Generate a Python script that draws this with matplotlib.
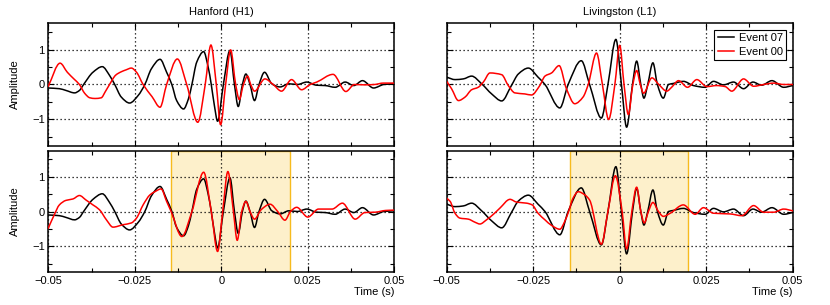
import numpy as np
import matplotlib
matplotlib.use("Agg")
import matplotlib.pyplot as plt
from matplotlib.path import Path
from matplotlib.patches import PathPatch
from matplotlib.lines import Line2D
from matplotlib.ticker import MultipleLocator, FixedLocator, FixedFormatter

plt.rcParams['font.family'] = ['Liberation Sans', 'DejaVu Sans']

# ---------------- data (time in ms, amplitude) ----------------
# Hanford (H1), Event 07 (same in both rows)
h1_t07 = [-50, -46.8, -44.9, -42.4, -41.0, -39.8, -37.1, -34.4, -32.3, -30.8, -28.9, -26.5,
          -24.0, -22.1, -20.2, -17.7, -15.8, -14.3, -12.9, -10.9, -9.5, -8.5, -7.1, -5.1,
          -3.8, -2.9, -2.0, -1.07, 0.6, 2.5, 3.8, 4.9, 6.1, 7.1, 8.3, 9.6, 10.9, 12.5, 14.6,
          17.0, 19.5, 22.0, 24.7, 27.5, 30.0, 32.9, 35.8, 38.3, 40.8, 44.0, 47.0, 50]
h1_a07 = [-0.10, -0.12, -0.17, -0.24, -0.17, 0.0, 0.35, 0.51, 0.26, 0.0, -0.36, -0.53,
          -0.31, 0.0, 0.45, 0.72, 0.35, 0.0, -0.46, -0.70, -0.41, 0.0, 0.64, 0.94,
          0.50, 0.0, -0.60, -1.05, 0.0, 0.97, 0.0, -0.63, 0.0, 0.30, 0.0, -0.46, 0.0, 0.35, 0.02,
          -0.07, 0.02, 0.0, 0.07, -0.02, -0.03, -0.08, 0.07, -0.03, 0.11, -0.10, 0.0, 0.02]

# Hanford (H1), Event 00 (top row, raw)
h1_t00_raw = [-50, -46.6, -44.5, -42.5, -41.0, -39.5, -38.0, -36.5, -34.7, -33.5, -32.3, -30.5,
              -29.0, -27.5, -26.0, -24.5, -22.6, -20.0, -17.7, -15.8, -12.7, -10.0, -6.8, -4.65,
              -3.0, -1.45, -0.2, 1.25, 2.7, 4.15, 5.2, 6.4, 7.6, 8.5, 9.6, 12.6, 15.0, 17.4,
              20.3, 23.2, 25.7, 27.6, 32.3, 36.0, 38.5, 41.4, 44.3, 46.8, 50]
h1_a00_raw = [-0.05, 0.61, 0.35, 0.15, 0.0, -0.25, -0.38, -0.40, -0.38, -0.2, 0.0, 0.27,
              0.36, 0.42, 0.47, 0.35, 0.0, -0.35, -0.65, 0.0, 0.73, 0.0, -1.08, 0.0,
              1.13, 0.0, -1.15, 0.0, 0.99, 0.0, -0.43, 0.0, 0.24, 0.0, -0.19, 0.16, 0.0, -0.19,
              0.14, -0.15, 0.0, 0.07, 0.29, -0.20, 0.0, -0.01, 0.0, 0.04, 0.04]

# Hanford (H1), Event 00 (bottom row, aligned)
h1_t00_al = [-50, -48.3, -46.8, -44.9, -42.9, -41.0, -39.1, -37.1, -35.2, -33.2, -31.3, -28.4,
             -26.0, -24.5, -22.6, -20.6, -19.2, -17.4, -15.8, -14.5, -11.4, -8.5, -5.1, -2.9,
             -1.07, 0.4, 1.9, 3.5, 4.6, 5.9, 7.1, 8.3, 9.6, 11.5, 14.1, 16.3, 18.4, 20.0, 21.8,
             25.0, 28.1, 32.0, 35.0, 38.7, 41.5, 44.5, 47.5, 50]
h1_a00_al = [-0.48, -0.10, 0.19, 0.32, 0.36, 0.46, 0.33, 0.19, 0.05, -0.24, -0.45, -0.38,
             -0.33, -0.19, 0.19, 0.48, 0.57, 0.65, 0.29, 0.0, -0.72, 0.0, 1.13, 0.0,
             -1.15, 0.0, 1.15, 0.0, -0.83, 0.0, 0.29, 0.0, -0.22, 0.05, 0.21, 0.0, -0.25, 0.0, 0.12,
             -0.16, 0.07, 0.07, 0.24, -0.22, -0.03, -0.02, 0.03, 0.04]

# Livingston (L1), Event 07 (same in both rows)
l1_t07 = [-50, -47.6, -45.2, -42.8, -39.9, -37.0, -34.1, -31.3, -29.3, -26.4, -23.6, -21.6,
          -17.3, -14.9, -11.1, -8.7, -5.3, -3.4, -1.1, 0.5, 2.0, 3.7, 4.9, 6.1, 7.0, 8.1,
          9.6, 10.9, 12.6, 14.1, 15.5, 18.4, 21.3, 24.7, 27.1, 30.0, 32.9, 35.8, 38.5, 41.0,
          44.0, 47.4, 50]
l1_a07 = [0.21, 0.14, 0.16, 0.24, 0.02, -0.27, -0.47, -0.03, 0.30, 0.47, 0.21, 0.0,
          -0.67, 0.0, 0.68, 0.0, -0.96, 0.0, 1.29, 0.0, -1.22, 0.0, 0.67, 0.0, -0.39, 0.0,
          0.62, 0.0, -0.39, 0.0, 0.03, 0.09, -0.03, -0.08, 0.09, -0.01, 0.07, -0.12, 0.07, -0.02,
          0.11, -0.08, -0.03]

# Livingston (L1), Event 00 (top row, raw)
l1_t00_raw = [-50, -48.6, -46.6, -44.7, -42.8, -40.9, -39.4, -37.5, -34.1, -32.2, -30.3, -27.4,
              -25.5, -23.1, -21.6, -19.7, -17.5, -15.4, -13.0, -10.6, -9.1, -6.7, -5.0, -3.2,
              -1.4, 0.0, 1.25, 2.5, 3.8, 4.9, 5.9, 6.9, 9.3, 11.3, 13.6, 15.0, 17.0, 19.6,
              22.3, 25.2, 28.0, 30.5, 32.4, 35.8, 38.7, 41.6, 44.5, 47.4, 50]
l1_a00_raw = [0.09, -0.12, -0.46, -0.36, -0.15, -0.08, 0.07, 0.33, 0.28, -0.03, -0.24, -0.27,
              -0.30, -0.03, 0.24, 0.33, 0.54, -0.12, -0.55, -0.36, 0.0, 0.90, 0.0, -1.00,
              0.0, 1.12, 0.0, -0.86, 0.0, 0.40, 0.02, -0.25, 0.19, 0.0, -0.19, -0.08, 0.11, -0.08,
              0.14, -0.06, -0.03, -0.06, -0.19, 0.16, -0.05, 0.0, 0.04, 0.0, 0.0]

# Livingston (L1), Event 00 (bottom row, aligned)
l1_t00_al = [-50, -49.0, -47.6, -46.2, -43.75, -41.8, -40.4, -38.5, -36.5, -34.6, -31.7, -29.8,
             -26.9, -25.3, -23.6, -21.6, -19.7, -17.3, -15.9, -14.6, -13.5, -12.0, -10.1, -8.7,
             -5.3, -3.4, -1.25, 0.7, 2.0, 3.5, 4.9, 6.1, 7.1, 8.3, 9.6, 11.2, 12.6, 14.6, 18.4,
             21.8, 24.2, 27.1, 31.9, 35.3, 38.7, 41.6, 44.5, 47.4, 50]
l1_a00_al = [0.38, 0.29, -0.05, -0.19, -0.22, -0.31, -0.36, -0.24, -0.08, 0.10, 0.35, 0.27,
             0.24, 0.19, -0.05, -0.24, -0.40, -0.51, -0.29, 0.05, 0.38, 0.57, 0.48, 0.33,
             -0.94, 0.0, 1.03, 0.0, -1.08, 0.0, 0.70, 0.0, -0.33, 0.0, 0.26, 0.0, -0.14, -0.05, 0.19,
             -0.08, 0.11, -0.05, -0.07, -0.12, 0.17, -0.02, -0.02, 0.07, 0.02]

window_ms = [-14.5, 19.8]
xtick_vals = [-0.05, -0.025, 0, 0.025, 0.05]
xtick_labels = ['\u22120.05', '\u22120.025', '0', '0.025', '0.05']
ytick_vals = [-1, 0, 1]
ytick_labels = ['\u22121', '0', '1']
titles = ['Hanford (H1)', 'Livingston (L1)']
series_labels = ['Event 07', 'Event 00']


def smooth_path(x, y):
    """Monotone cubic Hermite curve through the knots, drawn as Bezier segments."""
    x = np.asarray(x, float)
    y = np.asarray(y, float)
    h = np.diff(x)
    d = np.diff(y) / h
    m = np.zeros_like(y)
    m[0], m[-1] = d[0], d[-1]
    for i in range(1, len(x) - 1):
        if d[i - 1] * d[i] <= 0:
            m[i] = 0.0
        else:
            w1 = 2 * h[i] + h[i - 1]
            w2 = h[i] + 2 * h[i - 1]
            m[i] = (w1 + w2) / (w1 / d[i - 1] + w2 / d[i])
    verts = [(x[0], y[0])]
    codes = [Path.MOVETO]
    for i in range(len(x) - 1):
        verts += [(x[i] + h[i] / 3, y[i] + m[i] * h[i] / 3),
                  (x[i + 1] - h[i] / 3, y[i + 1] - m[i + 1] * h[i] / 3),
                  (x[i + 1], y[i + 1])]
        codes += [Path.CURVE4] * 3
    return Path(verts, codes)


def draw_curve(ax, t_ms, a, color):
    t = np.asarray(t_ms) * 1e-3
    ax.add_patch(PathPatch(smooth_path(t, a), facecolor='none', edgecolor=color,
                           lw=1.1, zorder=3, capstyle='round', joinstyle='round'))


W, H = 830, 305
fig = plt.figure(figsize=(W / 100, H / 100), dpi=100)
ax_w = 346 / W
pos = {
    (0, 0): [48.3 / W, 1 - 145.7 / H, ax_w, 122.4 / H],
    (1, 0): [48.3 / W, 1 - 272.3 / H, ax_w, 121.6 / H],
    (0, 1): [446.7 / W, 1 - 145.7 / H, ax_w, 122.4 / H],
    (1, 1): [446.7 / W, 1 - 272.3 / H, ax_w, 121.6 / H],
}

data = {
    (0, 0): (h1_t07, h1_a07, h1_t00_raw, h1_a00_raw),
    (1, 0): (h1_t07, h1_a07, h1_t00_al, h1_a00_al),
    (0, 1): (l1_t07, l1_a07, l1_t00_raw, l1_a00_raw),
    (1, 1): (l1_t07, l1_a07, l1_t00_al, l1_a00_al),
}

FS = 8
for (r, c), p in pos.items():
    ax = fig.add_axes(p)
    ax.set_xlim(-0.05, 0.05)
    ax.set_ylim(-1.75, 1.75)
    t7, a7, t0, a0 = data[(r, c)]
    if r == 1:
        ax.axvspan(window_ms[0] * 1e-3, window_ms[1] * 1e-3, facecolor='#fdf0cb',
                   edgecolor='#f7bb1e', lw=1.0, zorder=0.2)
    draw_curve(ax, t7, a7, 'black')
    draw_curve(ax, t0, a0, '#ff0000')

    ax.xaxis.set_major_locator(FixedLocator(xtick_vals))
    ax.xaxis.set_minor_locator(MultipleLocator(0.0125))
    ax.yaxis.set_major_locator(FixedLocator(ytick_vals))
    ax.yaxis.set_minor_locator(FixedLocator([-1.5, -0.5, 0.5, 1.5]))
    ax.tick_params(which='both', direction='in', top=True, right=True, width=0.8,
                   labelsize=FS, pad=2.5, colors='black')
    ax.tick_params(which='major', length=4)
    ax.tick_params(which='minor', length=3)
    ax.grid(True, which='major', linestyle=(0, (1, 2.2)), color='black', lw=0.9)
    ax.set_axisbelow(True)
    for s in ax.spines.values():
        s.set_linewidth(1.1)

    if r == 1:
        ax.xaxis.set_major_formatter(FixedFormatter(xtick_labels))
        ax.set_xlabel('Time (s)', loc='right', fontsize=FS, labelpad=1)
    else:
        ax.set_xticklabels([])
        ax.set_title(titles[c], fontsize=FS, pad=6)
    if c == 0:
        ax.yaxis.set_major_formatter(FixedFormatter(ytick_labels))
        ax.set_ylabel('Amplitude', fontsize=FS, labelpad=9)
    else:
        ax.set_yticklabels([])
    if r == 0 and c == 1:
        handles = [Line2D([], [], color='black', lw=1.1), Line2D([], [], color='#ff0000', lw=1.1)]
        leg = ax.legend(handles, series_labels, loc='upper right', fontsize=FS,
                        frameon=True, fancybox=False, edgecolor='black', framealpha=1,
                        handlelength=1.5, handletextpad=0.4, borderpad=0.3,
                        labelspacing=0.3, borderaxespad=0.6)
        leg.get_frame().set_linewidth(0.8)

fig.savefig('out.png', dpi=100)
